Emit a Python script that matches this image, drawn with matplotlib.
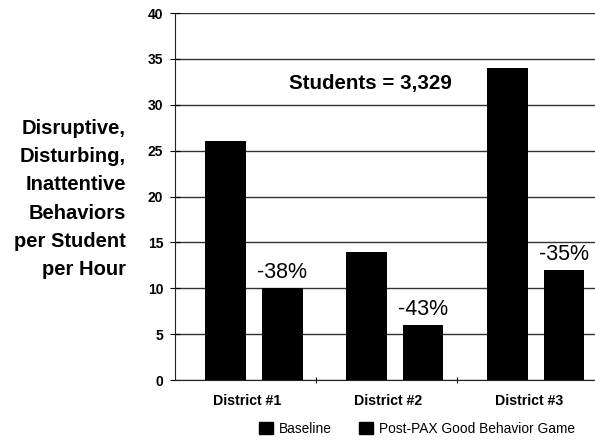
import numpy as np
import matplotlib.pyplot as plt
from matplotlib.patches import Patch

plt.rcParams['font.family'] = ['Liberation Sans', 'DejaVu Sans']

districts = ['District #1', 'District #2', 'District #3']
baseline = [26, 14, 34]
post_pax = [10, 6, 12]
changes = ['-38%', '-43%', '-35%']

fig = plt.figure(figsize=(5.95, 4.41), dpi=100)
ax = fig.add_axes([175/595, 1-380/441, 420/595, 367/441])

x = np.arange(len(districts))
w = 0.29
off = 0.2
ax.bar(x - off, baseline, w, color='black', zorder=3)
ax.bar(x + off, post_pax, w, color='black', zorder=3)

# percent change printed over the post-PAX bars
for xi, v, lab in zip(x, post_pax, changes):
    ax.text(xi + off, v + 1.1, lab, ha='center', va='baseline', fontsize=15.5)

ax.text(0.83, 32.3, 'Students = 3,329', ha='center', va='center',
        fontsize=14.8, fontweight='bold')

ax.set_ylim(0, 40)
ax.set_xlim(-0.56, 2.42)
ax.set_yticks(range(0, 41, 5))
ax.yaxis.grid(True, color='#333333', linewidth=1.0, zorder=0)
ax.set_axisbelow(True)
ax.tick_params(axis='y', direction='inout', length=7, width=0.8,
               labelsize=10, pad=5)
for t in ax.get_yticklabels():
    t.set_fontweight('bold')

ax.set_xticks(x - 0.05)
ax.set_xticklabels(districts, fontsize=10.2, fontweight='bold')
ax.tick_params(axis='x', length=0, pad=10)
ax.set_xticks([0.44, 1.44], minor=True)
ax.tick_params(axis='x', which='minor', direction='inout', length=5, width=0.8)

for s in ['top', 'right']:
    ax.spines[s].set_visible(False)
ax.spines['left'].set_color('#222222')
ax.spines['bottom'].set_color('#222222')

fig.text(126/595, 1-199/441,
         'Disruptive,\nDisturbing,\nInattentive\nBehaviors\nper Student\nper Hour',
         ha='right', va='center', fontsize=14.5, fontweight='bold', linespacing=1.62)

handles = [Patch(color='black'), Patch(color='black')]
fig.legend(handles, ['Baseline', 'Post-PAX Good Behavior Game'],
           loc='center', bbox_to_anchor=(417/595, 1-429/441), ncol=2,
           frameon=False, fontsize=9.9, handlelength=1.0, handleheight=1.0,
           handletextpad=0.45, columnspacing=2.0)

fig.savefig('out.png', dpi=100)
